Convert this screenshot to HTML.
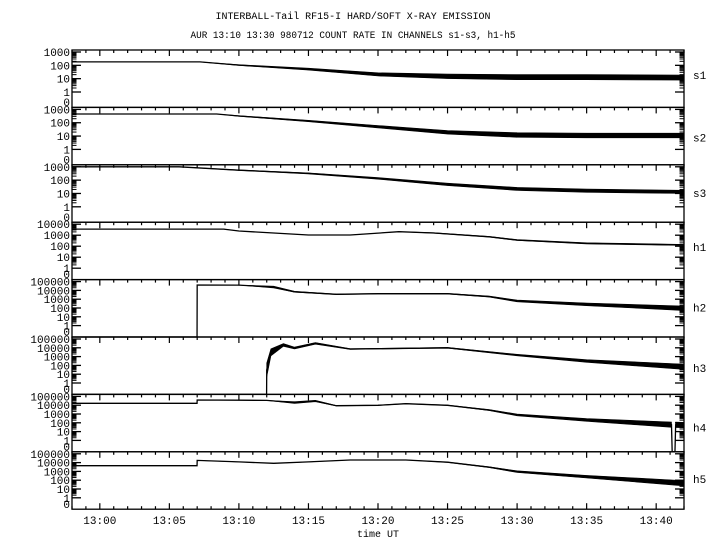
<!DOCTYPE html>
<html><head><meta charset="utf-8"><style>
html,body{margin:0;padding:0;background:#fff}
svg text{font-family:"Liberation Mono","DejaVu Sans Mono",monospace;fill:#000}
</style></head><body>
<svg id="chart" width="720" height="550" viewBox="0 0 720 550" xmlns="http://www.w3.org/2000/svg">
<rect width="720" height="550" fill="#fff"/>
<text x="353" y="19" font-size="10" text-anchor="middle" textLength="275" lengthAdjust="spacingAndGlyphs">INTERBALL-Tail RF15-I HARD/SOFT X-RAY EMISSION</text>
<text x="353" y="38" font-size="10" text-anchor="middle" textLength="325" lengthAdjust="spacingAndGlyphs">AUR 13:10 13:30 980712  COUNT RATE IN CHANNELS s1-s3, h1-h5</text>
<g id="plots"></g>
<text x="378" y="537" font-size="10" text-anchor="middle">time UT</text>
</svg>
<script>
// minutes since 13:00
const xTickLabels = ["13:00","13:05","13:10","13:15","13:20","13:25","13:30","13:35","13:40"];
const xTickMinutes = [0,5,10,15,20,25,30,35,40];
const channelNames = ["s1","s2","s3","h1","h2","h3","h4","h5"];
const channelDecades = [3,3,3,4,5,5,5,5];
const s1Times = [-2,7.2,10,15,20,25,30,35,42];
const s1Values = [180,180,105,52,21,15,13,13,12];
const s1Noise = [0,0,0.03,0.07,0.12,0.17,0.19,0.19,0.19];
const s2Times = [-2,8.4,10,15,20,25,30,35,42];
const s2Values = [450,450,320,135,50,19,12,11,11];
const s2Noise = [0,0,0.02,0.05,0.09,0.13,0.17,0.17,0.17];
const s3Times = [-2,5.7,10,15,20,25,30,35,42];
const s3Values = [1000,1000,560,320,135,48,22,16,13];
const s3Noise = [0,0,0.02,0.04,0.06,0.09,0.11,0.12,0.12];
const h1Times = [-2,8.9,10,15,18,21.5,24,28,30,35,42];
const h1Values = [3600,3600,2400,1050,1050,2100,1600,720,360,180,130];
const h1Noise = [0,0,0,0,0,0,0.02,0.03,0.04,0.05,0.05];
const h2Times = [-2,6.99,7,10,12.5,14,17,20,25,28,30,35,42];
const h2Values = [0,0,41000,40000,24000,7000,3600,4200,4200,2000,630,260,93];
const h2Noise = [0,0,0,0,0.1,0.05,0.03,0.03,0.04,0.06,0.1,0.15,0.25];
const h3Times = [-2,11.99,12,12.3,13.2,14,15.5,18,25,30,35,42];
const h3Values = [0,0,30,3000,21000,9500,32000,7300,10000,1500,316,70];
const h3Noise = [0,0,0.8,0.4,0.15,0.1,0.1,0.04,0.04,0.08,0.15,0.3];
const h4Times = [-2,6.99,7,10,12,14,15.5,17,20,22,25,28,30,35,41.1,41.15,41.35,41.4,42];
const h4Values = [16500,16500,39000,37000,35000,20000,30000,8700,9800,15000,9800,2800,780,210,62,0,0,60,56];
const h4Noise = [0,0,0,0,0,0.1,0.08,0.03,0.02,0.02,0.03,0.06,0.1,0.15,0.3,0,0,0.3,0.3];
const h5Times = [-2,6.99,7,10,12.5,15,18,22,25,28,30,35,42];
const h5Values = [4500,4500,18000,12000,8300,12000,20000,20000,11000,3000,940,250,45];
const h5Noise = [0,0,0,0,0,0,0,0.01,0.02,0.05,0.1,0.15,0.3];
const allTimes = [s1Times,s2Times,s3Times,h1Times,h2Times,h3Times,h4Times,h5Times];
const allValues = [s1Values,s2Values,s3Values,h1Values,h2Values,h3Values,h4Values,h5Values];
const allNoise = [s1Noise,s2Noise,s3Noise,h1Noise,h2Noise,h3Noise,h4Noise,h5Noise];
const labelOffsets = [25,30,28,25,28,31,33,27];

const NS = "http://www.w3.org/2000/svg";
const X0 = 72, X1 = 684, TMIN = -2, TMAX = 42;
const TOP = 50, PH = 57.4;
function xScale(t){ return X0 + (t - TMIN) / (TMAX - TMIN) * (X1 - X0); }
function yScale(i, v){
  const T = TOP + i*PH, D = channelDecades[i];
  const k = (D === 3 ? 40 : 44) / D;
  if (v <= 0) return T + PH;
  return Math.min(T + PH, T + 2 + (D - Math.log10(v)) * k);
}
function el(tag, attrs, parent){
  const e = document.createElementNS(NS, tag);
  for (const a in attrs) e.setAttribute(a, attrs[a]);
  parent.appendChild(e); return e;
}
const root = document.getElementById("plots");
for (let i = 0; i < 8; i++){
  const T = TOP + i*PH, D = channelDecades[i];
  const g = el("g", {}, root);
  
  
  const frame = el("rect", {x:X0, y:T, width:X1-X0, height:PH, fill:"none", stroke:"#000", "stroke-width":1.3}, g);
  
  
  for (let m = -2; m <= 42; m++){
    const x = xScale(m), major = (m % 5 === 0);
    el("line", {x1:x, x2:x, y1:T, y2:T + (major ? 6 : 3), stroke:"#000", "stroke-width":1.2}, g);
    if (i === 7) el("line", {x1:x, x2:x, y1:T+PH, y2:T+PH-(major?6:3), stroke:"#000", "stroke-width":1.2}, g);
  }
  const labels = [];
  for (let d = D; d >= 0; d--) labels.push(String(Math.pow(10, d)));
  labels.push("0");
  for (let d = 0; d <= D; d++){
    const v = Math.pow(10, d), y = yScale(i, v);
    el("line", {x1:X0, x2:X0+9, y1:y, y2:y, stroke:"#000", "stroke-width":1.3}, g);
    el("line", {x1:X1, x2:X1-9, y1:y, y2:y, stroke:"#000", "stroke-width":1.3}, g);
    if (d < D){
      for (let s = 2; s <= 9; s++){
        const ys = yScale(i, s*v);
        el("line", {x1:X0, x2:X0+4.5, y1:ys, y2:ys, stroke:"#000", "stroke-width":1}, g);
        el("line", {x1:X1, x2:X1-4.5, y1:ys, y2:ys, stroke:"#000", "stroke-width":1}, g);
      }
    }
  }
  labels.forEach((lab, j) => {
    const y = (lab === "0") ? T + 52 : yScale(i, Number(lab));
    const t = el("text", {x:X0-2, y:y+4, "font-size":11, "text-anchor":"end"}, g);
    t.textContent = lab;
    
    
  });
  const cl = el("text", {x:693, y:T + labelOffsets[i] + 4, "font-size":11}, g);
  cl.textContent = channelNames[i];
  
  
  const ts = allTimes[i], vs = allValues[i], ns = allNoise[i];
  const up = [], lo = [], mid = [];
  for (let j = 0; j < ts.length; j++){
    const x = xScale(ts[j]);
    mid.push(x + "," + yScale(i, vs[j]).toFixed(1));
    const f = Math.pow(10, ns[j]);
    up.push(x + "," + yScale(i, vs[j]*f).toFixed(1));
    lo.unshift(x + "," + yScale(i, vs[j]/f).toFixed(1));
  }
  const band = el("polygon", {points: up.concat(lo).join(" "), fill:"#000", stroke:"#000", "stroke-width":0.6}, g);
  
  
  const line = el("polyline", {points: mid.join(" "), fill:"none", stroke:"#000", "stroke-width":1.3}, g);
  
  
}
xTickMinutes.forEach((m, j) => {
  const t = el("text", {x:xScale(m), y:524, "font-size":11, "text-anchor":"middle"}, root);
  t.textContent = xTickLabels[j];
  
  
});
</script>
</body></html>
